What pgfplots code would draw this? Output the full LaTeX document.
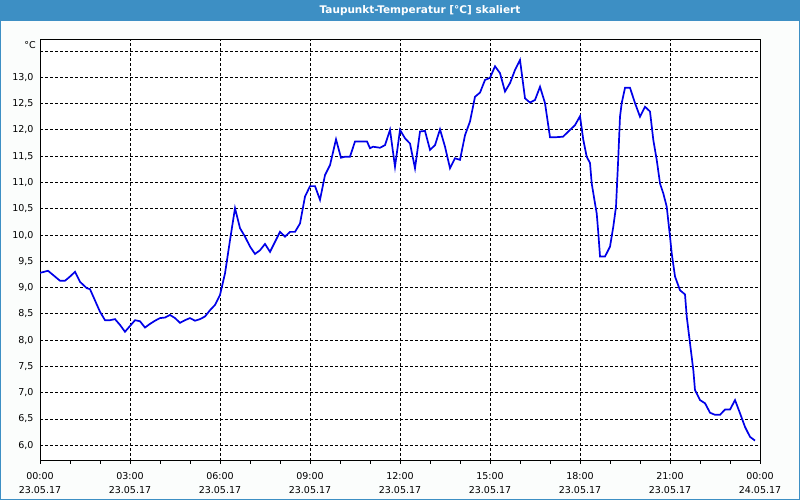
\documentclass[border=0pt]{standalone}
\usepackage{pgfplots}
\pgfplotsset{compat=1.18}
\usepackage{fontspec}
\setmainfont{DejaVu Sans}
\definecolor{barblue}{RGB}{61,143,196}
\definecolor{bgcol}{RGB}{251,253,252}
\definecolor{curve}{RGB}{0,0,232}
\begin{document}
\begin{tikzpicture}[x=1bp,y=1bp]
\fill[bgcol] (0,0) rectangle (800,-500);
\fill[barblue] (0,0) rectangle (800,-21);
\draw[barblue, line width=1bp] (0.5,-0.5) rectangle (799.5,-499.5);
\node[white, font=\fontsize{10.5bp}{12bp}\selectfont\bfseries] at (420,-10.5) {Taupunkt-Temperatur [°C] skaliert};
\node[anchor=east, font=\fontsize{9.5bp}{11bp}\selectfont, inner sep=0pt] at (36,-45) {°C};
\begin{axis}[
    at={(40bp,-40bp)}, anchor=north west,
    scale only axis,
    width=720bp, height=420.7bp,
    xmin=0, xmax=24,
    ymin=5.707, ymax=13.71,
    xtick={0,3,...,24},
    minor x tick num=2,
    xticklabels={{00:00\\23.05.17},{03:00\\23.05.17},{06:00\\23.05.17},{09:00\\23.05.17},{12:00\\23.05.17},{15:00\\23.05.17},{18:00\\23.05.17},{21:00\\23.05.17},{00:00\\24.05.17}},
    xticklabel style={align=center, font=\fontsize{9.5bp}{14.5bp}\selectfont, yshift=-5bp},
    ytick={6,6.5,...,13.5},
    yticklabels={{6,0},{6,5},{7,0},{7,5},{8,0},{8,5},{9,0},{9,5},{10,0},{10,5},{11,0},{11,5},{12,0},{12,5},{13,0},{}},
    yticklabel style={font=\fontsize{9.5bp}{11bp}\selectfont},
    grid=major,
    major grid style={black, line width=1bp, dash pattern=on 3bp off 2bp},
    axis line style={black, line width=1bp},
    tick align=outside,
    xtick pos=lower,
    major tick length=3bp, minor tick length=3bp,
    tick style={black, line width=1bp},
    ytick style={draw=none},
    axis background/.style={fill=white},
]
\addplot[curve, line width=1.7bp, no marks] coordinates {
(0,9.28) (0.267,9.32) (0.667,9.13) (0.833,9.13) (1.0,9.21) (1.167,9.30) (1.333,9.11)
(1.557,8.99) (1.667,8.97) (2.0,8.54) (2.167,8.38) (2.333,8.38) (2.5,8.40) (2.667,8.29)
(2.833,8.16) (3.0,8.27) (3.167,8.38) (3.333,8.36) (3.5,8.24) (3.667,8.31) (3.833,8.37)
(4.0,8.42) (4.167,8.43) (4.333,8.48) (4.5,8.42) (4.667,8.33) (4.833,8.38) (5.0,8.42)
(5.167,8.37) (5.333,8.40) (5.5,8.45) (5.667,8.57) (5.833,8.67) (6.0,8.86) (6.167,9.27)
(6.333,9.90) (6.5,10.51) (6.667,10.13) (6.833,9.97) (7.0,9.78) (7.167,9.64) (7.333,9.71)
(7.5,9.83) (7.667,9.68) (7.833,9.87) (8.0,10.06) (8.167,9.97) (8.333,10.06) (8.5,10.06)
(8.667,10.22) (8.833,10.73) (9.0,10.93) (9.167,10.93) (9.333,10.67) (9.5,11.14) (9.667,11.33)
(9.867,11.82) (10.033,11.47) (10.167,11.49) (10.333,11.49) (10.5,11.78) (10.733,11.78)
(10.9,11.78) (11.0,11.65) (11.1,11.68) (11.333,11.66) (11.5,11.71) (11.667,12.00)
(11.833,11.30) (12.0,12.00) (12.167,11.84) (12.333,11.74) (12.5,11.27) (12.667,11.97)
(12.833,11.98) (13.0,11.62) (13.167,11.71) (13.333,12.01) (13.5,11.68) (13.667,11.27)
(13.833,11.46) (14.0,11.43) (14.167,11.90) (14.333,12.16) (14.5,12.63) (14.667,12.71)
(14.833,12.95) (15.0,12.99) (15.167,13.21) (15.333,13.08) (15.5,12.73) (15.667,12.89)
(15.833,13.14) (16.0,13.33) (16.167,12.60) (16.333,12.52) (16.5,12.57) (16.667,12.82)
(16.833,12.51) (17.0,11.86) (17.167,11.86) (17.433,11.87) (17.667,12.00) (17.833,12.09)
(18.0,12.26) (18.11,11.81) (18.223,11.49) (18.333,11.37) (18.39,10.98) (18.5,10.60)
(18.557,10.41) (18.61,10.04) (18.667,9.59) (18.833,9.59) (19.0,9.78) (19.11,10.16)
(19.2,10.54) (19.277,11.49) (19.333,12.25) (19.39,12.51) (19.5,12.80) (19.667,12.80)
(19.833,12.51) (20.0,12.25) (20.167,12.44) (20.333,12.35) (20.443,11.81) (20.557,11.43)
(20.667,10.98) (20.777,10.79) (20.89,10.54) (21.0,9.97) (21.057,9.65) (21.167,9.21)
(21.333,8.95) (21.5,8.87) (21.557,8.45) (21.667,7.94) (21.777,7.43) (21.833,7.05)
(22.0,6.86) (22.167,6.80) (22.333,6.62) (22.5,6.58) (22.667,6.58) (22.833,6.68)
(23.0,6.68) (23.167,6.86) (23.333,6.61) (23.5,6.35) (23.667,6.16) (23.833,6.09)
};
\end{axis}
\end{tikzpicture}
\end{document}
